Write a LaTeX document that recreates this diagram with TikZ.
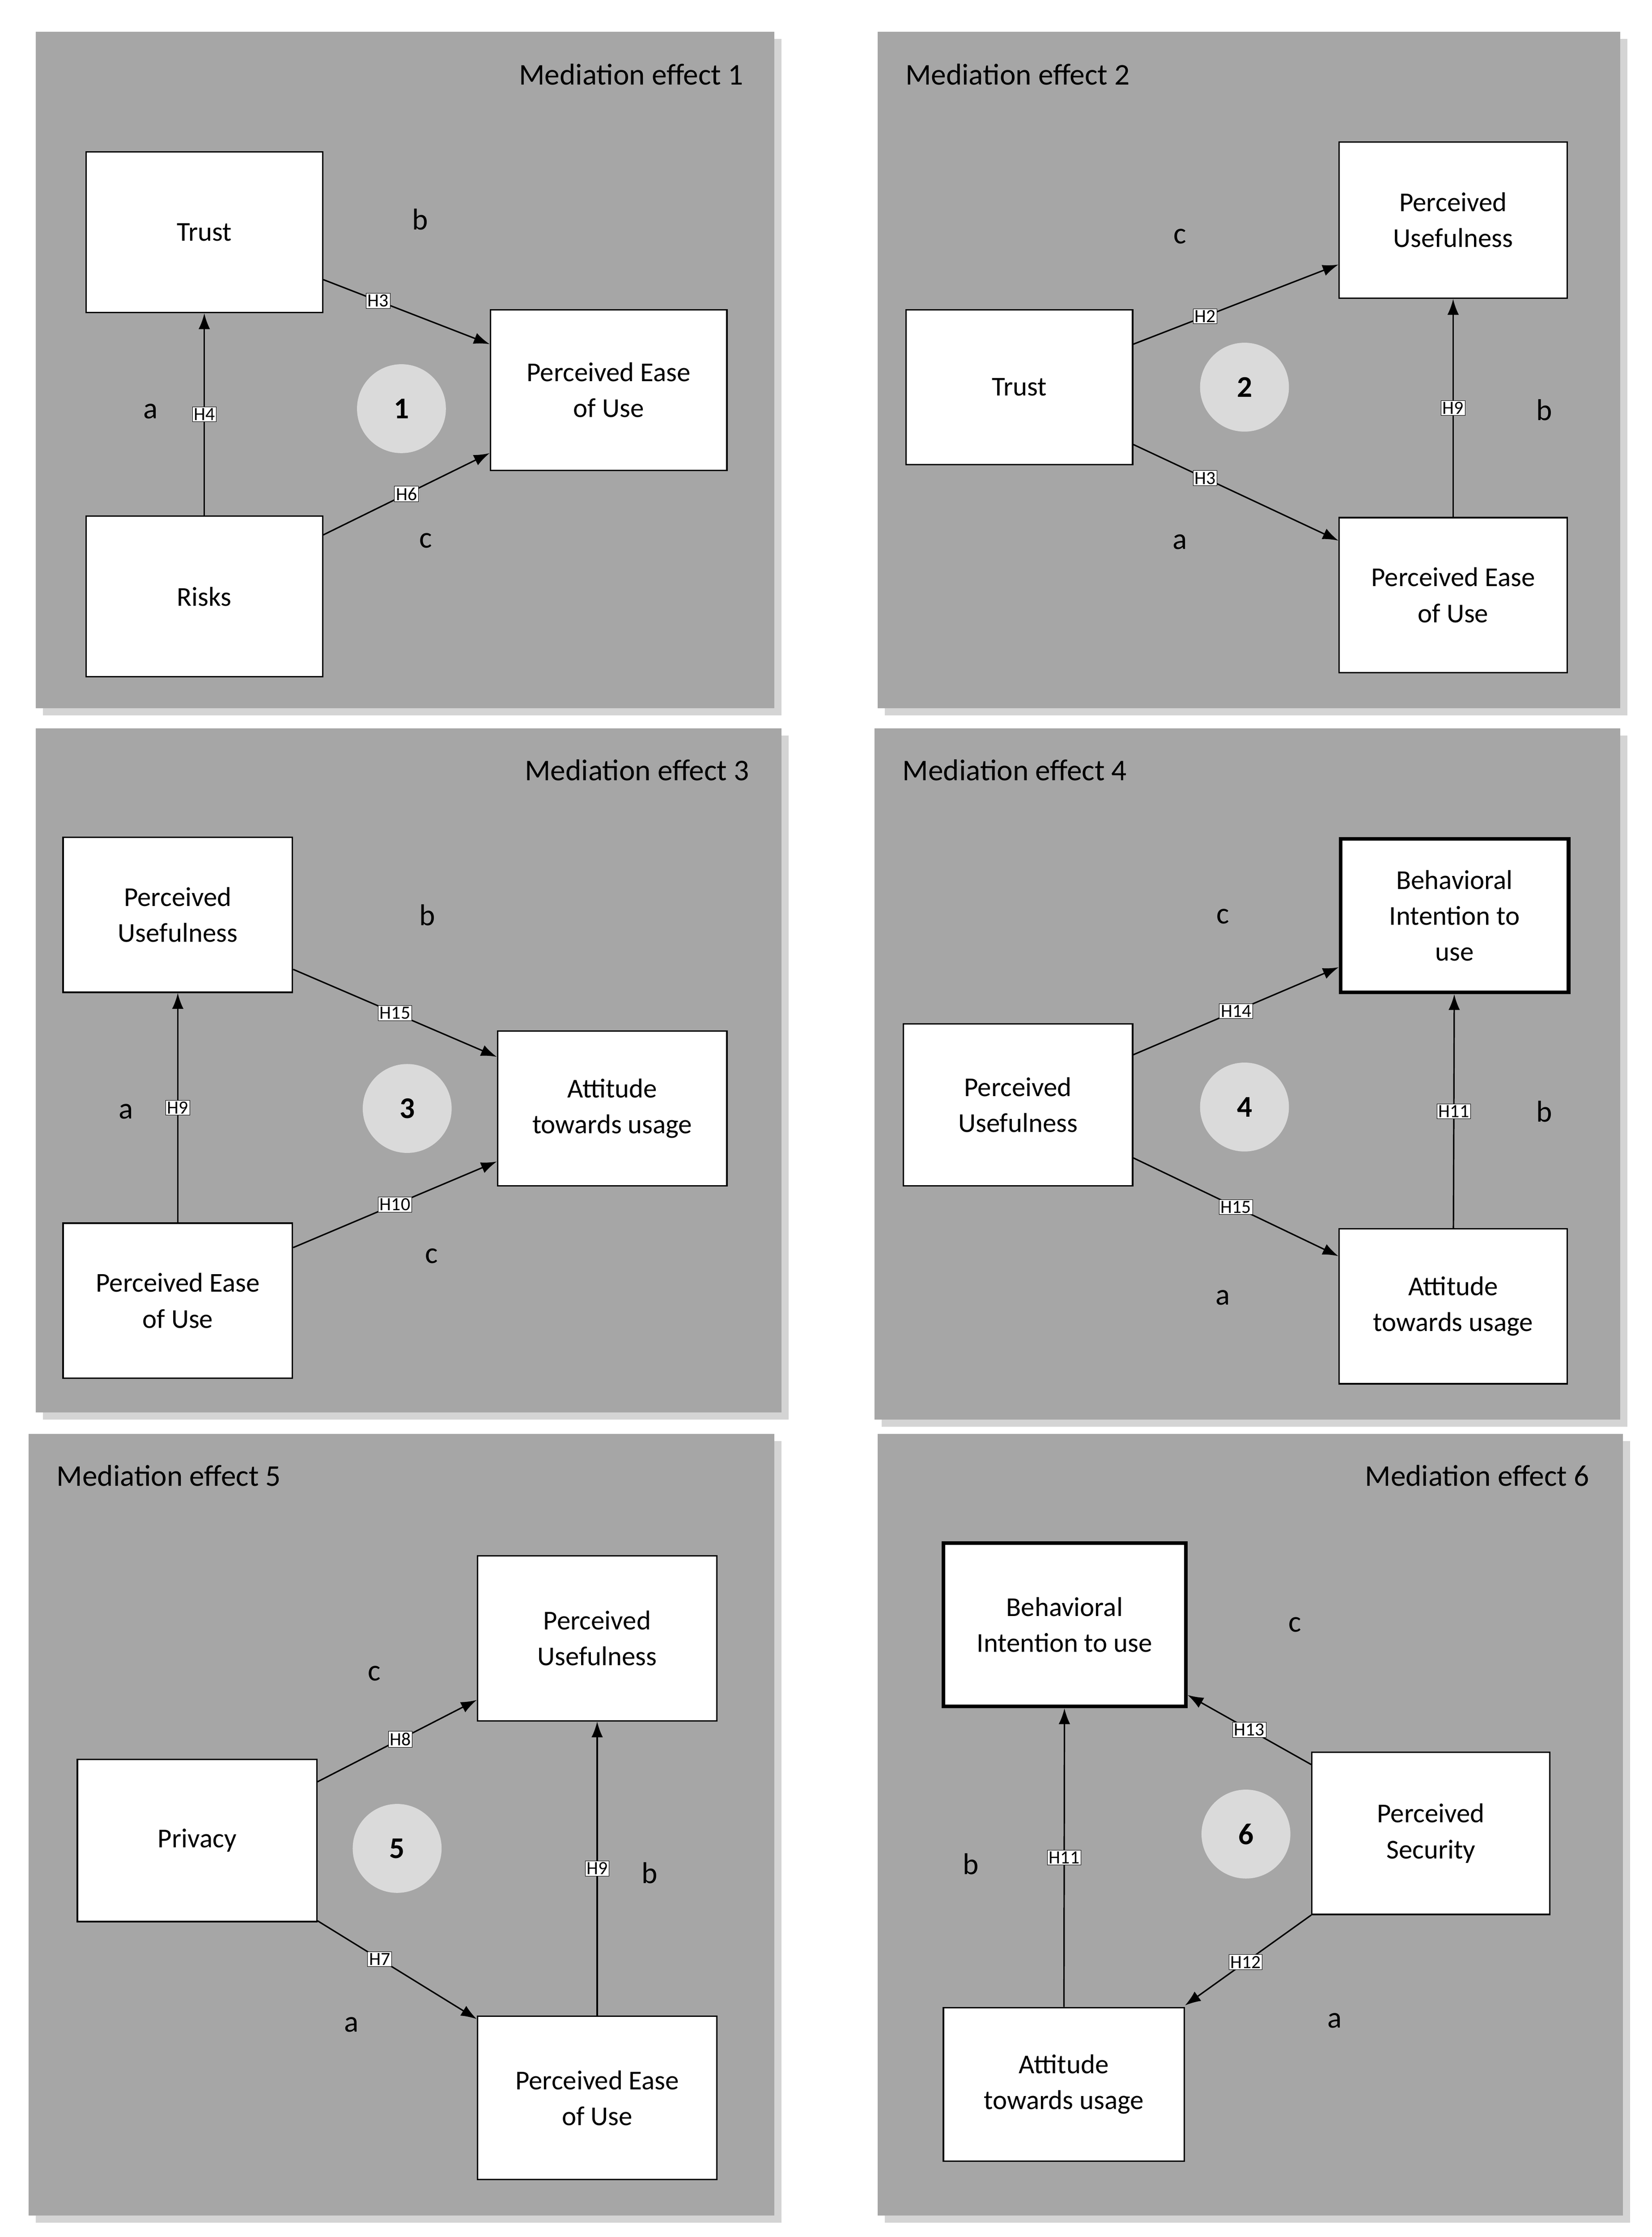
\documentclass[tikz,border=0pt]{standalone}
\usepackage{fontspec}
\setmainfont{Carlito}
\usetikzlibrary{arrows.meta}
\begin{document}
\begin{tikzpicture}[x=1pt,y=-1pt,
 panel/.style={fill=panelgray,draw=none},
 shad/.style={fill=shadgray,draw=none},
 box/.style={draw,fill=white,line width=1pt,align=center,font=\fontsize{19}{25}\selectfont,inner sep=2pt},
 thick box/.style={box,line width=2.6pt},
 circ/.style={circle,fill=circgray,minimum size=62pt,font=\fontsize{21}{24}\selectfont\bfseries},
 let/.style={font=\fontsize{21}{24}\selectfont},
 ttl/.style={font=\fontsize{21}{24}\selectfont},
 arr/.style={draw,line width=1pt,-{Latex[length=11pt,width=8pt]}},
 hl/.style={fill=white,draw,line width=0.3pt,inner sep=1pt,font=\fontsize{13}{14}\selectfont}]
\definecolor{panelgray}{HTML}{A6A6A6}
\definecolor{shadgray}{HTML}{D4D4D4}
\definecolor{circgray}{HTML}{DADADA}
\useasboundingbox (0,0) rectangle (1152,1560);
\fill[white] (0,0) rectangle (1152,1560);
\foreach \a/\b/\c/\d in {25/22/540/494, 612/22/1130/494, 25/508/545/985, 610/508/1130/990, 20/1000/540/1545, 612/1000/1132/1545}{
 \fill[shad] (\a+5,\b+5) rectangle (\c+5,\d+5);
 \fill[panel] (\a,\b) rectangle (\c,\d);
}
% ---- Panel 1
\node[ttl,anchor=east] (ti1) at (522,52) {Mediation effect 1};
\node[box,minimum width=165pt,minimum height=112pt] (t1) at (142.5,162) {Trust};
\node[box,minimum width=165pt,minimum height=112pt] (pe1) at (424.5,272) {Perceived Ease\\of Use};
\node[box,minimum width=165pt,minimum height=112pt] (r1) at (142.5,416) {Risks};
\node[circ] (c1) at (280,285) {1};
\node[let] (b1) at (293,153) {b};
\node[let] (a1) at (105,287) {a};
\node[let] (cc1) at (297,377) {c};
\draw[arr] (r1) -- node[hl]{H4} (t1);
\draw[arr] ([yshift=-33pt]t1.east) -- node[hl,pos=.33]{H3} ([yshift=32pt]pe1.west);
\draw[arr] ([yshift=43pt]r1.east) -- node[hl,pos=.5]{H6} ([yshift=-44pt]pe1.west);
% ---- Panel 2
\node[ttl,anchor=west] (ti2) at (628,52) {Mediation effect 2};
\node[box,minimum width=158pt,minimum height=108pt] (t2) at (711,270) {Trust};
\node[box,minimum width=159pt,minimum height=109pt] (pu2) at (1013.5,153.5) {Perceived\\Usefulness};
\node[box,minimum width=159pt,minimum height=108pt] (pe2) at (1013.5,415) {Perceived Ease\\of Use};
\node[circ] (c2) at (868,270) {2};
\node[let] (cc2) at (823,165) {c};
\node[let] (b2) at (1077,286) {b};
\node[let] (a2) at (823,378) {a};
\draw[arr] ([yshift=30pt]t2.east) -- node[hl,pos=.35]{H2} ([yshift=-31pt]pu2.west);
\draw[arr] ([yshift=-40pt]t2.east) -- node[hl,pos=.35]{H3} ([yshift=38pt]pe2.west);
\draw[arr] (pe2) -- node[hl]{H9} (pu2);
% ---- Panel 3
\node[ttl,anchor=east] (ti3) at (526,537) {Mediation effect 3};
\node[box,minimum width=160pt,minimum height=108pt] (pu3) at (124,638) {Perceived\\Usefulness};
\node[box,minimum width=160pt,minimum height=108pt] (at3) at (427,773) {Attitude\\towards usage};
\node[box,minimum width=160pt,minimum height=108pt] (pe3) at (124,907) {Perceived Ease\\of Use};
\node[circ] (c3) at (284,773) {3};
\node[let] (b3) at (298,638) {b};
\node[let] (a3) at (88,775) {a};
\node[let] (cc3) at (301,876) {c};
\draw[arr] (pe3) -- node[hl]{H9} (pu3);
\draw[arr] ([yshift=-38pt]pu3.east) -- node[hl,pos=.5]{H15} ([yshift=36pt]at3.west);
\draw[arr] ([yshift=37pt]pe3.east) -- node[hl,pos=.5]{H10} ([yshift=-37pt]at3.west);
% ---- Panel 4
\node[ttl,anchor=west] (ti4) at (626,537) {Mediation effect 4};
\node[box,minimum width=160pt,minimum height=113pt] (pu4) at (710,770.5) {Perceived\\Usefulness};
\node[thick box,minimum width=159pt,minimum height=107pt] (bi4) at (1014.5,638.5) {Behavioral\\Intention to\\use};
\node[box,minimum width=159pt,minimum height=108pt] (at4) at (1013.5,911) {Attitude\\towards usage};
\node[circ] (c4) at (868,772) {4};
\node[let] (cc4) at (853,639) {c};
\node[let] (b4) at (1077,775) {b};
\node[let] (a4) at (853,905) {a};
\draw[arr] ([yshift=35pt]pu4.east) -- node[hl,pos=.5]{H14} ([yshift=-36pt]bi4.west);
\draw[arr] ([yshift=-37pt]pu4.east) -- node[hl,pos=.5]{H15} ([yshift=35pt]at4.west);
\draw[arr] (at4) -- node[hl]{H11} (bi4);
% ---- Panel 5
\node[ttl,anchor=west] (ti5) at (36,1029) {Mediation effect 5};
\node[box,minimum width=167pt,minimum height=113pt] (pr5) at (137.5,1283.5) {Privacy};
\node[box,minimum width=167pt,minimum height=115pt] (pu5) at (416.5,1142.5) {Perceived\\Usefulness};
\node[box,minimum width=167pt,minimum height=114pt] (pe5) at (416.5,1463) {Perceived Ease\\of Use};
\node[circ] (c5) at (277,1289) {5};
\node[let] (cc5) at (261,1167) {c};
\node[let] (b5) at (453,1306) {b};
\node[let] (a5) at (245,1412) {a};
\draw[arr] ([yshift=41pt]pr5.east) -- node[hl,pos=.52]{H8} ([yshift=-43pt]pu5.west);
\draw[arr] ([yshift=-56pt]pr5.east) -- node[hl,pos=.39]{H7} ([yshift=55pt]pe5.west);
\draw[arr] (pe5) -- node[hl]{H9} (pu5);
% ---- Panel 6
\node[ttl,anchor=east] (ti6) at (1112,1029) {Mediation effect 6};
\node[thick box,minimum width=169pt,minimum height=114pt] (bi6) at (742.5,1133) {Behavioral\\Intention to use};
\node[box,minimum width=166pt,minimum height=113pt] (ps6) at (998,1278.5) {Perceived\\Security};
\node[box,minimum width=168pt,minimum height=107pt] (at6) at (742,1453.5) {Attitude\\towards usage};
\node[circ] (c6) at (869,1279) {6};
\node[let] (cc6) at (903,1133) {c};
\node[let] (b6) at (677,1300) {b};
\node[let] (a6) at (931,1409) {a};
\draw[arr] ([yshift=48pt]ps6.west) -- node[hl,pos=.5]{H13} ([yshift=-49pt]bi6.east);
\draw[arr] ([yshift=-57pt]ps6.west) -- node[hl,pos=.52]{H12} ([yshift=55pt]at6.east);
\draw[arr] (at6) -- node[hl]{H11} (bi6);
\end{tikzpicture}
\end{document}
